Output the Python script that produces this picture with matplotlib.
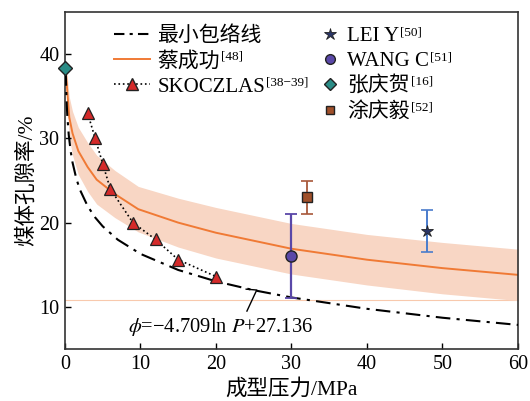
import matplotlib.pyplot as plt
from matplotlib.lines import Line2D

plt.rcParams['font.family'] = ['Liberation Serif', 'Noto Sans CJK SC']
plt.rcParams['mathtext.fontset'] = 'stix'
plt.rcParams['axes.unicode_minus'] = False

# 最小包络线  phi = -4.709 ln P + 27.136
env_p = [0.1, 0.2, 0.3, 0.5, 0.75, 1, 1.5, 2, 3, 4, 5, 7, 10, 15, 20, 25, 30, 40, 50, 60]
env_phi = [37.98, 34.72, 32.81, 30.40, 28.49, 27.14, 25.23, 23.87, 21.96, 20.61,
           19.56, 17.97, 16.29, 14.38, 13.03, 11.98, 11.12, 9.77, 8.71, 7.86]

# 蔡成功 curve and band
cai_p = [0.05, 0.22, 0.57, 1.0, 1.77, 3, 4.2, 6.6, 9.7, 15, 20, 30, 40, 50, 60]
cai_phi = [38.6, 36.6, 32.5, 30.6, 28.5, 26.6, 25.1, 23.4, 21.6, 20.0, 18.8, 16.9, 15.6, 14.6, 13.8]
cai_hi = [38.9, 38.1, 34.9, 33.2, 31.3, 29.5, 28.0, 26.2, 24.3, 22.9, 21.8, 19.9, 18.6, 17.65, 16.85]
cai_lo = [38.3, 35.1, 30.1, 28.0, 25.7, 23.7, 22.2, 20.6, 18.9, 17.1, 15.8, 13.9, 12.6, 11.55, 10.75]

# SKOCZLAS
sk_p = [3, 4, 5, 6, 9, 12, 15, 20]
sk_phi = [33.0, 30.0, 27.0, 24.0, 20.0, 18.0, 15.6, 13.6]

# single studies: P, phi, error
lei_p, lei_phi, lei_err = 48, 19.0, 2.5
wang_p, wang_phi, wang_err = 30, 16.0, 5.0
zhang_p, zhang_phi = 0, 38.4
tu_p, tu_phi, tu_err = 32, 23.0, 2.0

c_orange = '#f07a35'
c_band = '#f8d6c4'

fig = plt.figure(figsize=(5.3, 4.01), dpi=100)
ax = fig.add_axes([0.1226, 0.1297, 0.8547, 0.8403])

ax.axhline(10.85, color='#f8c9ad', lw=0.8, zorder=1)
ax.fill_between(cai_p, cai_lo, cai_hi, color=c_band, lw=0, zorder=1)
ax.plot(cai_p, cai_phi, color=c_orange, lw=1.4, zorder=2)
ax.plot(env_p, env_phi, color='black', lw=1.5, dashes=[7, 3, 1.5, 3], zorder=3)
ax.plot(sk_p, sk_phi, color='black', lw=1.2, ls=':', zorder=3)
ax.plot(sk_p, sk_phi, ls='none', marker='^', ms=8, mfc='#d42a2a', mec='#222222', mew=0.9, zorder=4)

ax.errorbar(wang_p, wang_phi, yerr=wang_err, fmt='none', ecolor='#5a48a8', elinewidth=1.6, capsize=4, capthick=1.3, zorder=4)
ax.plot(wang_p, wang_phi, ls='none', marker='o', ms=8, mfc='#5a48a8', mec='#222222', mew=1.0, zorder=5)
ax.errorbar(tu_p, tu_phi, yerr=tu_err, fmt='none', ecolor='#a8583a', elinewidth=1.3, capsize=4, capthick=1.2, zorder=4)
ax.plot(tu_p, tu_phi, ls='none', marker='s', ms=7, mfc='#a0502a', mec='#222222', mew=1.0, zorder=5)
ax.errorbar(lei_p, lei_phi, yerr=lei_err, fmt='none', ecolor='#4a7ccc', elinewidth=1.4, capsize=4, capthick=1.2, zorder=4)
ax.plot(lei_p, lei_phi, ls='none', marker='*', ms=9, mfc='#2a3566', mec='#222222', mew=0.6, zorder=5)
ax.plot(zhang_p, zhang_phi, ls='none', marker='D', ms=7, mfc='#2a8c86', mec='#222222', mew=1.0, zorder=6, clip_on=False)

# equation label with leader
ax.plot([24.0, 25.4, 24.1], [12.1, 12.0, 9.5], color='black', lw=1.0, zorder=3)
ax.text(8.3, 7.6, r'$\phi$=−4.709ln $P$+27.136', fontsize=14.8, va='center', ha='left')

ax.set_xlim(0, 60)
ax.set_ylim(5, 45)
ax.set_xticks(range(0, 61, 10))
ax.set_yticks([10, 20, 30, 40])
ax.tick_params(direction='in', length=4, width=1, labelsize=14.5, pad=4)
for s in ax.spines.values():
    s.set_linewidth(1.2)
    s.set_color('#333333')
ax.set_xlabel('成型压力/MPa', fontsize=15.5, labelpad=4)
ax.set_ylabel('煤体孔隙率/%', fontsize=15.5, labelpad=2)

left_h = [Line2D([], [], color='black', lw=1.5, dashes=[5, 2.5, 1.5, 2.5]),
          Line2D([], [], color=c_orange, lw=1.4),
          Line2D([], [], color='black', lw=1.2, ls=':', marker='^', ms=8, mfc='#d42a2a', mec='#222222')]
left_l = ['最小包络线', '蔡成功', 'SKOCZLAS']
left_sup = ['', '[48]', '[38−39]']
leg1 = ax.legend(left_h, left_l, loc='upper left', bbox_to_anchor=(0.075, 1.0), frameon=False,
                 fontsize=15, handlelength=1.75, labelspacing=0.26, handletextpad=0.35, borderaxespad=0.3)
ax.add_artist(leg1)

right_h = [Line2D([], [], ls='none', marker='*', ms=9, mfc='#2a3566', mec='#222222', mew=0.6),
           Line2D([], [], ls='none', marker='o', ms=7, mfc='#5a48a8', mec='#222222'),
           Line2D([], [], ls='none', marker='D', ms=6, mfc='#2a8c86', mec='#222222'),
           Line2D([], [], ls='none', marker='s', ms=6, mfc='#a0502a', mec='#222222')]
right_l = ['LEI Y', 'WANG C', '张庆贺', '涂庆毅']
right_sup = ['[50]', '[51]', '[16]', '[52]']
leg2 = ax.legend(right_h, right_l, loc='upper left', bbox_to_anchor=(0.535, 1.0), frameon=False,
                 fontsize=15, handlelength=0.8, labelspacing=0.26, handletextpad=0.4, borderaxespad=0.3)

# superscript references after the legend labels
fig.canvas.draw()
inv = fig.transFigure.inverted()
for leg, sups in ((leg1, left_sup), (leg2, right_sup)):
    for t, s in zip(leg.get_texts(), sups):
        if not s:
            continue
        bb = t.get_window_extent()
        x, y = inv.transform((bb.x1 + 1, bb.y1 + 1))
        fig.text(x, y, s, fontsize=9.5, ha='left', va='top')

fig.savefig('out.png', dpi=100)
